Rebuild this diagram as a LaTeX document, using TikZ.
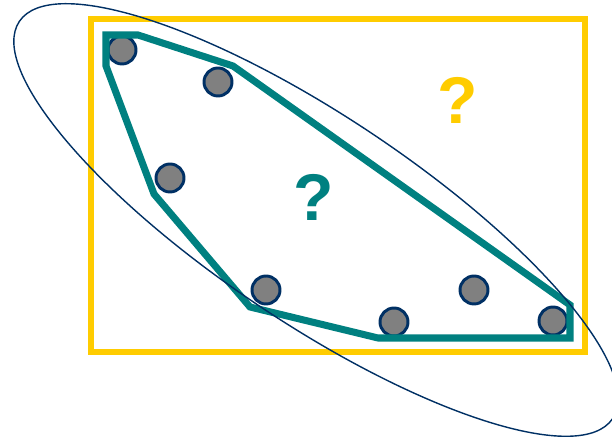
\documentclass[tikz,border=0pt]{standalone}
\usepackage{fontspec}
\setmainfont{Liberation Sans}
\usetikzlibrary{positioning, calc}
\definecolor{boxyellow}{RGB}{255,204,0}
\definecolor{hullteal}{RGB}{0,128,128}
\definecolor{navy}{RGB}{0,48,100}
\definecolor{dotgray}{RGB}{128,128,128}

\begin{document}
\begin{tikzpicture}[
    box/.style={draw=boxyellow, line width=4.3pt},
    dot/.style={circle, draw=navy, fill=dotgray, line width=2.1pt, minimum size=0.7cm, inner sep=0pt},
    hull/.style={draw=hullteal, line width=5pt, line join=miter},
    spread/.style={draw=navy, line width=1pt},
    qmark/.style={font=\fontsize{47}{50}\selectfont\bfseries, inner sep=0pt}]
  \useasboundingbox (0,0) rectangle (15.3,10.925);

  % Frame
  \draw[box] (2.275,2.125) rectangle (14.625,10.45);

  % Samples
  \node[dot] (p1) at (3.05,9.675) {};
  \node[dot] (p2) at (5.45,8.875) {};
  \node[dot] (p3) at (4.25,6.475) {};
  \node[dot] (p4) at (6.65,3.675) {};
  \node[dot] (p5) at (9.85,2.875) {};
  \node[dot] (p6) at (11.85,3.675) {};
  \node[dot] (p7) at (13.825,2.9) {};

  % Hull corners
  \coordinate (h1) at (2.65,10.05);
  \coordinate (h2) at (3.45,10.05);
  \coordinate (h3) at (5.825,9.275);
  \coordinate (h4) at (14.25,3.3);
  \coordinate (h5) at (14.25,2.475);
  \coordinate (h6) at (9.45,2.475);
  \coordinate (h7) at (6.25,3.25);
  \coordinate (h8) at (3.85,6.075);
  \coordinate (h9) at (2.65,9.275);
  \draw[hull] (h1) -- (h2) -- (h3) -- (h4) -- (h5) -- (h6) -- (h7) -- (h8) -- (h9) -- cycle;

  % Ellipse around the samples
  \coordinate (ec) at (7.9,5.425);
  \draw[spread] (ec) ellipse [x radius=8.925cm, y radius=2.575cm, rotate=-33.8];

  % Question marks
  \node[qmark, text=boxyellow] (qbox) at (11.45,8.425) {?};
  \node[qmark, text=hullteal] (qhull) at (7.85,6.0) {?};
\end{tikzpicture}
\end{document}
